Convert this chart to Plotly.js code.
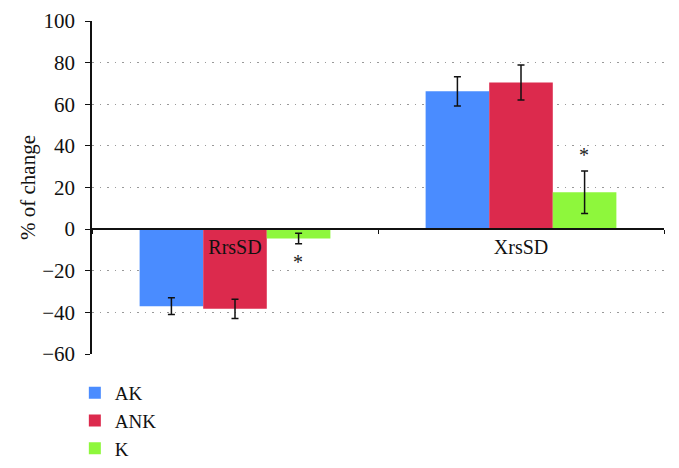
<!DOCTYPE html>
<html>
<head>
<meta charset="utf-8">
<script src="https://cdn.plot.ly/plotly-3.0.1.min.js"></script>
<style>
  body { margin: 0; background: #fff; }
  #chart { width: 679px; height: 468px; }
</style>
</head>
<body>
<div id="chart"></div>
<script>
var categories = ["RrsSD", "XrsSD"];
var akValues = [-37.0, 66.2];
var akErrors = [4.0, 7.0];
var ankValues = [-38.3, 70.4];
var ankErrors = [4.6, 8.4];
var kValues = [-4.5, 17.7];
var kErrors = [2.5, 10.2];

// significance stars next to the K bars
var starX = [0.222, 1.222];
var starY = [-16, 35.5];

function errs(vals) {
    return {type: "data", array: vals, visible: true, color: "#111", thickness: 1.5, width: 3.5};
}

var data = [
    {x: categories, y: akValues, name: "AK", type: "bar",
     marker: {color: "#4a8cff"}, error_y: errs(akErrors)},
    {x: categories, y: ankValues, name: "ANK", type: "bar",
     marker: {color: "#dc2a4d"}, error_y: errs(ankErrors)},
    {x: categories, y: kValues, name: "K", type: "bar",
     marker: {color: "#8ef73c"}, error_y: errs(kErrors)}
];

var annotations = starX.map(function (x, i) {
    return {x: x, y: starY[i], xref: "x", yref: "y", text: "*", showarrow: false,
            font: {family: "Liberation Serif", size: 20, color: "#222"}};
});

// plot area runs from y=21 to y=354 px; the legend sits in the paper space under it
var layout = {
    width: 679,
    height: 468,
    margin: {l: 92, r: 15, t: 21, b: 0},
    paper_bgcolor: "#fff",
    plot_bgcolor: "#fff",
    font: {family: "Liberation Serif", size: 20, color: "#111"},
    barmode: "group",
    bargap: 0.333,
    bargroupgap: 0,
    showlegend: true,
    legend: {x: -0.03, y: 0.0, xanchor: "left", yanchor: "bottom",
             font: {size: 19}, tracegroupgap: 0, itemwidth: 30},
    xaxis: {
        type: "category",
        range: [-0.5, 1.5],
        anchor: "free",
        position: 0.5347,
        showline: true,
        linecolor: "#111",
        linewidth: 1.5,
        ticks: "outside",
        tickson: "boundaries",
        ticklen: 4,
        tickcolor: "#111",
        showgrid: false,
        tickfont: {size: 20}
    },
    yaxis: {
        domain: [0.255, 1],
        range: [-60, 100],
        dtick: 20,
        showline: true,
        linecolor: "#111",
        linewidth: 1.5,
        ticks: "outside",
        ticklen: 5,
        tickcolor: "#111",
        ticklabelstandoff: 6,
        zeroline: false,
        showgrid: true,
        gridcolor: "#999",
        gridwidth: 1,
        griddash: "1.5px,6px",
        tickfont: {size: 21},
        title: {text: "% of change", font: {size: 21}, standoff: 1}
    },
    annotations: annotations
};

Plotly.newPlot("chart", data, layout, {displayModeBar: false});
</script>
</body>
</html>
